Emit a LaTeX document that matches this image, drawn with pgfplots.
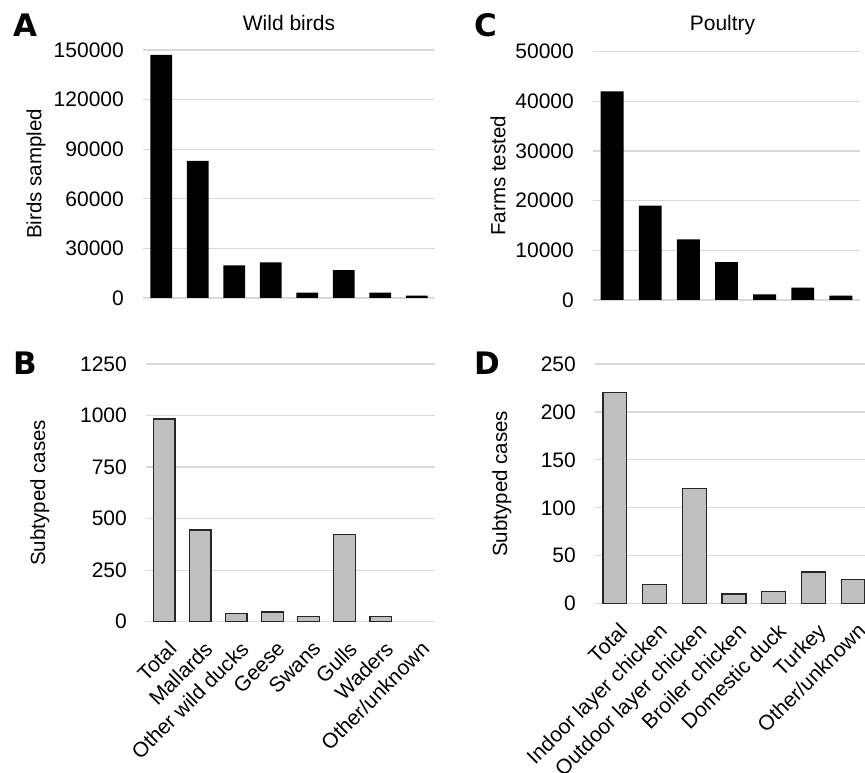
\documentclass[border=0pt]{standalone}
\usepackage{pgfplots}
\pgfplotsset{compat=1.18}
\usepackage{fontspec}
\setmainfont{Liberation Sans}
\newfontfamily\letterfont{DejaVu Sans}
\definecolor{gridc}{HTML}{D9D9D9}
\definecolor{barg}{HTML}{BFBFBF}
\definecolor{edgec}{HTML}{262626}
\pgfplotsset{
  myaxis/.style={
    scale only axis,
    axis line style={draw=none},
    major tick length=0pt,
    ymajorgrids,
    grid style={color=gridc, line width=1.2pt},
    ymin=0,
    enlargelimits=false,
    ybar, bar width=0.6,
    tick label style={font=\fontsize{21}{25}\selectfont},
    label style={font=\fontsize{20.5}{24}\selectfont},
    title style={font=\fontsize{21}{25}\selectfont},
    scaled y ticks=false,
    /pgf/number format/fixed,
    /pgf/number format/assume math mode=true,
    /pgf/number format/1000 sep={},
    yticklabel style={anchor=east, inner sep=0pt, xshift=-19pt},
    xticklabel style={rotate=45, anchor=north east, inner sep=0pt, xshift=-10.6pt, yshift=-14.8pt},
  },
  blackbars/.style={fill=black, draw=none},
  greybars/.style={fill=barg, draw=edgec, line width=1.3pt},
}
\begin{document}
\begin{tikzpicture}
\useasboundingbox (0,0) rectangle (865pt,773pt);
% Panel A
\begin{axis}[myaxis, at={(143pt,475pt)}, anchor=south west, width=292pt, height=248pt,
  xmin=-0.5, xmax=7.5, ymax=150000, ytick={0,30000,60000,90000,120000,150000},
  xtick={0,...,7}, xticklabels={},
  ylabel={Birds sampled}, ylabel style={at={(axis description cs:-0.366,0.5)}, anchor=center},
  title={Wild birds}, title style={at={(axis description cs:0.5,1)}, anchor=center, yshift=21pt}]
\addplot[blackbars] coordinates {(0,147000) (1,83000) (2,19800) (3,21600) (4,3200) (5,16900) (6,3200) (7,1400)};
\end{axis}
% Panel C
\begin{axis}[myaxis, at={(593pt,473pt)}, anchor=south west, width=267pt, height=248.3pt,
  xmin=-0.5, xmax=6.5, ymax=50000, ytick={0,10000,20000,30000,40000,50000},
  xtick={0,...,6}, xticklabels={},
  ylabel={Farms tested}, ylabel style={at={(axis description cs:-0.356,0.5)}, anchor=center},
  title={Poultry}, title style={at={(axis description cs:0.5,1)}, anchor=center, yshift=20.7pt, xshift=-4pt}]
\addplot[blackbars] coordinates {(0,42000) (1,19000) (2,12200) (3,7600) (4,1150) (5,2480) (6,870)};
\end{axis}
% Panel B
\begin{axis}[myaxis, at={(146pt,151.3pt)}, anchor=south west, width=289pt, height=257.7pt,
  xmin=-0.5, xmax=7.5, ymax=1250, ytick={0,250,500,750,1000,1250},
  xtick={0,...,7}, xticklabels={Total,Mallards,Other wild ducks,Geese,Swans,Gulls,Waders,Other/unknown},
  ylabel={Subtyped cases}, ylabel style={at={(axis description cs:-0.367,0.5)}, anchor=center}]
\addplot[greybars] coordinates {(0,983) (1,445) (2,41) (3,47) (4,24) (5,422) (6,24)};
\end{axis}
% Panel D
\begin{axis}[myaxis, at={(595pt,169.3pt)}, anchor=south west, width=278pt, height=239.7pt,
  xmin=-0.5, xmax=6.5, ymax=250, ytick={0,50,100,150,200,250},
  xtick={0,...,6}, xticklabels={Total,Indoor layer chicken,Outdoor layer chicken,Broiler chicken,Domestic duck,Turkey,Other/unknown},
  ylabel={Subtyped cases}, ylabel style={at={(axis description cs:-0.335,0.5)}, anchor=center}]
\addplot[greybars] coordinates {(0,220) (1,20) (2,120) (3,10) (4,13) (5,33) (6,25)};
\end{axis}
\node[font=\letterfont\bfseries\fontsize{31}{31}\selectfont] at (25pt,748pt) {A};
\node[font=\letterfont\bfseries\fontsize{31}{31}\selectfont] at (486pt,748pt) {C};
\node[font=\letterfont\bfseries\fontsize{31}{31}\selectfont] at (25pt,409.5pt) {B};
\node[font=\letterfont\bfseries\fontsize{31}{31}\selectfont] at (487.5pt,409.5pt) {D};
\end{tikzpicture}
\end{document}
